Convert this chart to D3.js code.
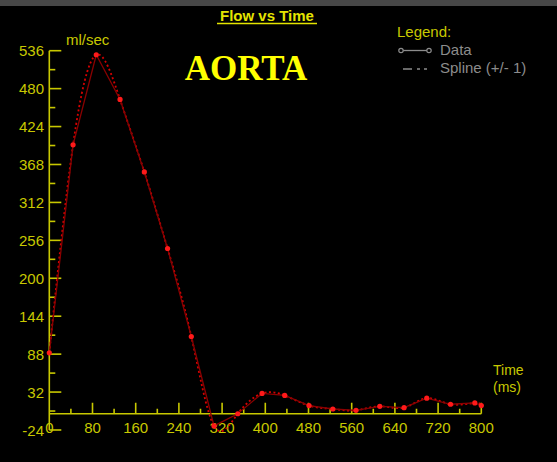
<!DOCTYPE html>
<html>
<head>
<meta charset="utf-8">
<script src="https://cdn.jsdelivr.net/npm/d3@7"></script>
<style>
  html, body { margin: 0; padding: 0; background: #000; }
  svg { display: block; }
</style>
</head>
<body>
<svg id="chart" width="557" height="462"></svg>
<script>
// values
var times = [0, 44, 87, 131, 176, 219, 263, 305, 349, 394, 436, 481, 525, 568, 612, 657, 699, 743, 788, 800];
var flow  = [90, 397, 530, 464, 357, 244, 114, -18, 0, 30, 27, 12, 7, 5, 11, 9, 23, 14, 16, 12];
var yTicks = [536, 480, 424, 368, 312, 256, 200, 144, 88, 32, -24];
var xTicks = [0, 80, 160, 240, 320, 400, 480, 560, 640, 720, 800];

var axisCol = "#c8c800", labelCol = "#c8c800";
var font = "'Liberation Sans', Arial, sans-serif";

var svg = d3.select("#chart");
svg.append("rect").attr("width", 557).attr("height", 462).attr("fill", "#000");
svg.append("rect").attr("width", 557).attr("height", 6).attr("fill", "#474747");

var x = d3.scaleLinear().domain([0, 800]).range([49.3, 481.3]);
var y = d3.scaleLinear().domain([-24, 536]).range([430, 50.7]);

var data = times.map((t, i) => ({t: t, v: flow[i]}));

//// y axis
var ax = svg.append("g").attr("stroke", axisCol).attr("stroke-width", 1.6).attr("fill", "none");
ax.append("line").attr("x1", x(0)).attr("x2", x(0)).attr("y1", y(536)).attr("y2", y(-24));
yTicks.forEach(function(v, i) {
  ax.append("line").attr("x1", x(0)).attr("x2", x(0) + 12).attr("y1", y(v)).attr("y2", y(v));
  if (i < yTicks.length - 1) {
    var m = v - 28;
    ax.append("line").attr("x1", x(0)).attr("x2", x(0) + 6).attr("y1", y(m)).attr("y2", y(m));
  }
});
//// x axis (at zero)
ax.append("line").attr("x1", x(0)).attr("x2", x(800)).attr("y1", y(0)).attr("y2", y(0));
d3.range(40, 801, 40).forEach(function(t) {
  var len = t % 80 == 0 ? 11 : 5;
  ax.append("line").attr("x1", x(t)).attr("x2", x(t)).attr("y1", y(0)).attr("y2", y(0) - len);
});

svg.append("g").selectAll("text").data(yTicks).enter().append("text")
  .attr("x", 44).attr("y", d => y(d) + 5.5)
  .attr("text-anchor", "end")
  .attr("font-family", font).attr("font-size", "15px").attr("fill", labelCol)
  .text(d => d);

svg.append("g").selectAll("text").data(xTicks).enter().append("text")
  .attr("x", d => x(d)).attr("y", y(0) + 19.5)
  .attr("text-anchor", "middle")
  .attr("font-family", font).attr("font-size", "15px").attr("fill", labelCol)
  .text(d => d);

//// spline (dotted) and data line
svg.append("defs").append("clipPath").attr("id", "plot")
  .append("rect").attr("x", x(0)).attr("y", 0).attr("width", x(800) - x(0) + 4).attr("height", y(-24) + 2);

svg.append("path").datum(data)
  .attr("clip-path", "url(#plot)")
  .attr("d", d3.line().x(d => x(d.t)).y(d => y(d.v)).curve(d3.curveNatural))
  .attr("fill", "none").attr("stroke", "#d80000").attr("stroke-width", 1.8)
  .attr("stroke-dasharray", "2 2.5");

svg.append("path").datum(data)
  .attr("d", d3.line().x(d => x(d.t)).y(d => y(d.v)))
  .attr("fill", "none").attr("stroke", "#8a0000").attr("stroke-width", 1.3);

svg.append("g").selectAll("circle").data(data).enter().append("circle")
  .attr("cx", d => x(d.t)).attr("cy", d => y(d.v)).attr("r", 2.6)
  .attr("fill", "#ff1a1a");

//// texts
svg.append("text").attr("x", 267).attr("y", 21)
  .attr("text-anchor", "middle")
  .attr("font-family", font).attr("font-size", "15px").attr("font-weight", "bold")
  .attr("fill", "#e4e400").text("Flow vs Time");
svg.append("line").attr("x1", 217).attr("x2", 317).attr("y1", 23.5).attr("y2", 23.5)
  .attr("stroke", "#e4e400").attr("stroke-width", 1.5);

svg.append("text").attr("x", 246).attr("y", 80)
  .attr("text-anchor", "middle")
  .attr("font-family", "'Liberation Serif', 'DejaVu Serif', serif").attr("font-size", "35px").attr("font-weight", "bold")
  .attr("fill", "#ffff00").text("AORTA");

svg.append("text").attr("x", 66).attr("y", 45)
  .attr("font-family", font).attr("font-size", "15px").attr("fill", labelCol).text("ml/sec");

svg.append("text").attr("x", 493).attr("y", 375)
  .attr("font-family", font).attr("font-size", "14px").attr("fill", labelCol).text("Time");
svg.append("text").attr("x", 493).attr("y", 392)
  .attr("font-family", font).attr("font-size", "14px").attr("fill", labelCol).text("(ms)");

//// legend
var lg = svg.append("g");
lg.append("text").attr("x", 397).attr("y", 37)
  .attr("font-family", font).attr("font-size", "15px").attr("fill", labelCol).text("Legend:");
lg.append("line").attr("x1", 401).attr("x2", 429).attr("y1", 50.5).attr("y2", 50.5)
  .attr("stroke", "#8c8c8c").attr("stroke-width", 1.3);
[401, 429].forEach(function(cx) {
  lg.append("circle").attr("cx", cx).attr("cy", 50.5).attr("r", 2.2)
    .attr("fill", "#000").attr("stroke", "#8c8c8c").attr("stroke-width", 1.2);
});
lg.append("line").attr("x1", 403).attr("x2", 429).attr("y1", 69).attr("y2", 69)
  .attr("stroke", "#8c8c8c").attr("stroke-width", 1.3).attr("stroke-dasharray", "9 5 3 4 3 10");
lg.append("text").attr("x", 440).attr("y", 55)
  .attr("font-family", font).attr("font-size", "15px").attr("fill", "#8c8c8c").text("Data");
lg.append("text").attr("x", 440).attr("y", 73)
  .attr("font-family", font).attr("font-size", "15px").attr("fill", "#8c8c8c").text("Spline (+/- 1)");
</script>
</body>
</html>
